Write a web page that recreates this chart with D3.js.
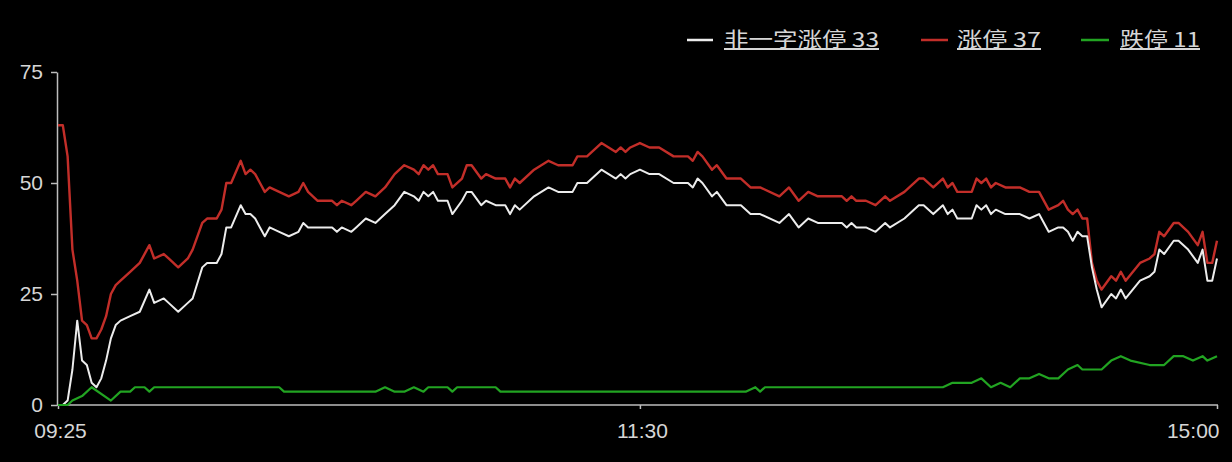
<!DOCTYPE html>
<html><head><meta charset="utf-8">
<script src="https://cdn.jsdelivr.net/npm/d3@7"></script>
<style>
html,body{margin:0;padding:0;background:#000;}
svg{display:block;}
</style></head>
<body>
<svg id="chart" width="1232" height="462"></svg>
<script>
// minute index (0 = 09:25, 121 = 11:30, 241 = 15:00)
const upTimes = [0,1,2,3,4,5,6,7,8,9,10,11,12,13,15,17,19,20,22,23,25,27,28,30,31,33,34,35,36,38,39,40,41,42,43,44,46,48,50,51,52,54,57,58,59,61,62,64,66,68,70,72,74,75,76,77,78,79,81,82,84,85,86,88,89,91,93,94,95,96,99,102,104,107,108,110,113,116,117,118,119,121,123,125,128,131,132,133,134,136,137,139,142,144,146,150,152,154,156,158,163,164,165,166,168,170,172,173,176,179,180,182,184,185,186,187,190,191,192,193,194,195,197,200,202,204,206,208,209,210,211,212,213,214,215,216,217,219,220,221,222,225,227,228,229,230,232,233,235,237,238,239,240,241];
const nonOneWordUp = [0,0,1,8,19,10,9,5,4,6,10,15,18,19,20,21,26,23,24,23,21,23,24,31,32,32,34,40,40,45,43,43,42,40,38,40,39,38,39,41,40,40,40,39,40,39,40,42,41,43,45,48,47,46,48,47,48,46,46,43,46,48,48,45,46,45,45,43,45,44,47,49,48,48,50,50,53,51,52,51,52,53,52,52,50,50,49,51,50,47,48,45,45,43,43,41,43,40,42,41,41,40,41,40,40,39,41,40,42,45,45,43,45,43,44,42,42,45,44,45,43,44,43,43,42,43,39,40,40,39,37,39,38,38,31,26,22,25,24,26,24,28,29,30,35,34,37,37,35,32,35,28,28,33];
const limitUp = [63,63,56,35,28,19,18,15,15,17,20,25,27,28,30,32,36,33,34,33,31,33,35,41,42,42,44,50,50,55,52,53,52,50,48,49,48,47,48,50,48,46,46,45,46,45,46,48,47,49,52,54,53,52,54,53,54,52,52,49,51,54,54,51,52,51,51,49,51,50,53,55,54,54,56,56,59,57,58,57,58,59,58,58,56,56,55,57,56,53,54,51,51,49,49,47,49,46,48,47,47,46,47,46,46,45,47,46,48,51,51,49,51,49,50,48,48,51,50,51,49,50,49,49,48,48,44,45,46,44,43,44,42,42,32,28,26,29,28,30,28,32,33,34,39,38,41,41,39,36,39,32,32,37];
const downTimes = [0,2,3,5,7,11,13,15,16,18,19,20,46,47,66,68,70,72,74,76,77,81,82,83,91,92,143,145,146,147,184,186,190,192,194,196,198,200,202,204,206,208,210,212,213,217,219,221,223,227,230,232,234,236,238,239,241];
const limitDown = [0,0,1,2,4,1,3,3,4,4,3,4,4,3,3,4,3,3,4,3,4,4,3,4,4,3,3,4,3,4,4,5,5,6,4,5,4,6,6,7,6,6,8,9,8,8,10,11,10,9,9,11,11,10,11,10,11];
const xTickIndex = [0,121,241];
const xTickLabels = ["09:25","11:30","15:00"];
const yTicks = [0,25,50,75];
const seriesNames = ["非一字涨停 33","涨停 37","跌停 11"];
const seriesColors = ["#ececec","#c22e29","#22a422"];

const svg = d3.select("#chart");
const x = d3.scaleLinear().domain([0,241]).range([58,1217]);
const y = d3.scaleLinear().domain([0,75]).range([405,72]);
const axisColor = "#bdbdbd", textColor = "#d6d6d6";

// y axis
const ya = svg.append("g").attr("transform","translate(57,0)")
  .call(d3.axisLeft(y).tickValues(yTicks).tickSize(6).tickSizeOuter(0).tickPadding(8));
ya.selectAll("path,line").attr("stroke",axisColor).attr("stroke-width",1.5);
ya.selectAll("text").attr("fill",textColor).attr("font-family","Liberation Sans, Arial, sans-serif").attr("font-size",21);
// x axis
const xa = svg.append("g").attr("transform","translate(0,405)")
  .call(d3.axisBottom(x).tickValues(xTickIndex).tickFormat((d,i)=>xTickLabels[i]).tickSize(4).tickSizeOuter(0).tickPadding(14));
xa.select("path").attr("d","M57,0H1218").attr("stroke",axisColor).attr("stroke-width",1.5);
xa.selectAll("line").attr("stroke",axisColor).attr("stroke-width",1.5);
xa.selectAll("text").attr("fill",textColor).attr("font-family","Liberation Sans, Arial, sans-serif").attr("font-size",21)
  .attr("text-anchor",(d,i)=> i===2 ? "end" : "middle")
  .attr("dx",2);

const line = d3.line().x(d=>x(d[0])).y(d=>y(d[1])).curve(d3.curveLinear);
const redData = upTimes.map((t,i)=>[t,limitUp[i]]);
const whiteData = upTimes.map((t,i)=>[t,nonOneWordUp[i]]);
const greenData = downTimes.map((t,i)=>[t,limitDown[i]]);

svg.append("path").datum(redData).attr("d",line).attr("fill","none").attr("stroke",seriesColors[1]).attr("stroke-width",2.4).attr("stroke-linejoin","round");
svg.append("path").datum(whiteData).attr("d",line).attr("fill","none").attr("stroke",seriesColors[0]).attr("stroke-width",2).attr("stroke-linejoin","round");
svg.append("path").datum(greenData).attr("d",line).attr("fill","none").attr("stroke",seriesColors[2]).attr("stroke-width",2.2).attr("stroke-linejoin","round");

// legend
const legendX = [[687,713,724,155],[921,948,957,84],[1081,1109,1120,80]];
const lg = svg.append("g");
seriesNames.forEach((name,i)=>{
  const [x1,x2,tx,tw] = legendX[i];
  lg.append("line").attr("x1",x1).attr("x2",x2).attr("y1",40).attr("y2",40)
    .attr("stroke",seriesColors[i]).attr("stroke-width",2.5);
  lg.append("text").attr("x",tx).attr("y",47).text(name)
    .attr("fill",textColor).attr("font-family","Noto Sans CJK SC, sans-serif").attr("font-size",20)
    .attr("textLength",tw).attr("lengthAdjust","spacingAndGlyphs")
    .attr("text-decoration","underline");
});
</script>
</body></html>
